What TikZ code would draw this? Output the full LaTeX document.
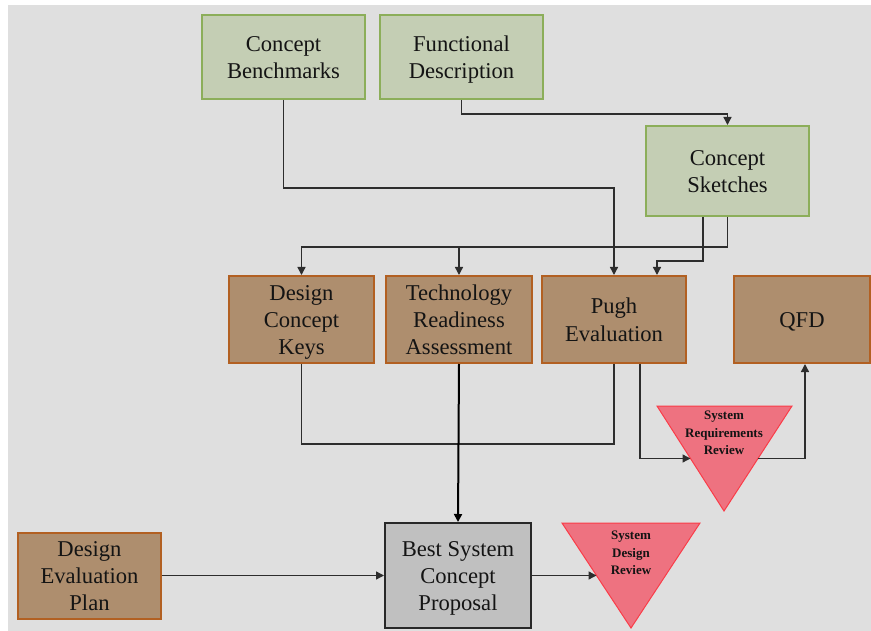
\documentclass[tikz,border=0pt]{standalone}
\usepackage{fontspec}
\setmainfont{Liberation Serif}
\usetikzlibrary{arrows.meta,calc}
\definecolor{bgc}{RGB}{223,223,223}
\definecolor{gfill}{RGB}{196,206,180}
\definecolor{gdraw}{RGB}{140,174,90}
\definecolor{bfill}{RGB}{174,142,110}
\definecolor{bdraw}{RGB}{178,96,34}
\definecolor{kfill}{RGB}{192,192,192}
\definecolor{kdraw}{RGB}{40,40,40}
\definecolor{tfill}{RGB}{238,114,128}
\definecolor{tdraw}{RGB}{250,60,72}
\definecolor{linec}{RGB}{45,45,45}
\definecolor{txtc}{RGB}{20,20,20}
\newcommand{\mytop}{\rule{0pt}{21pt}}
\newcommand{\mybot}{\rule[-5pt]{0pt}{5pt}}
\tikzset{
  box/.style={rectangle, line width=2pt, align=center, text=txtc, inner sep=0pt,
    font=\fontsize{22.6}{27.2}\selectfont},
  gbox/.style={box, fill=gfill, draw=gdraw},
  bbox/.style={box, fill=bfill, draw=bdraw},
  kbox/.style={box, fill=kfill, draw=kdraw},
  tri/.style={fill=tfill, draw=tdraw, line width=1pt},
  trilabel/.style={align=center, text=txtc, inner sep=0pt,
    font=\bfseries\fontsize{13}{17.5}\selectfont},
  conn/.style={draw=linec, line width=1.4pt},
  arr/.style={conn, -{Triangle[length=8pt,width=8pt]}},
}
\begin{document}
\begin{tikzpicture}[x=1pt,y=-1pt]
\useasboundingbox (0,0) rectangle (871,631);
\fill[bgc] (8,5) rectangle (871,631);

\node[gbox, minimum width=163pt, minimum height=84pt] (cb) at (283.5,57) {\mytop Concept\\Benchmarks\mybot};
\node[gbox, minimum width=163pt, minimum height=84pt] (fd) at (461.5,57) {\mytop Functional\\Description\mybot};
\node[gbox, minimum width=163pt, minimum height=90pt] (cs) at (727.5,171) {\mytop Concept\\Sketches\mybot};

\node[bbox, minimum width=145pt, minimum height=87pt] (dck) at (301.5,319.5) {\mytop Design\\Concept\\Keys\mybot};
\node[bbox, minimum width=146pt, minimum height=87pt] (tra) at (459,319.5) {\mytop Technology\\Readiness\\Assessment\mybot};
\node[bbox, minimum width=144pt, minimum height=87pt] (pugh) at (614,319.5) {\mytop Pugh\\Evaluation\mybot};
\node[bbox, minimum width=136pt, minimum height=87pt] (qfd) at (802,319.5) {\mytop QFD\mybot};

\node[bbox, minimum width=143pt, minimum height=86pt] (dep) at (89.5,575.5) {\mytop Design\\Evaluation\\Plan\mybot};
\node[kbox, minimum width=146pt, minimum height=105pt] (best) at (458,575.5) {\mytop Best System\\Concept\\Proposal\mybot};

% System Requirements Review triangle
\coordinate (srrL) at (657,406);
\coordinate (srrR) at (792,406);
\coordinate (srrB) at (724,511);
\draw[tri] (srrL) -- (srrR) -- (srrB) -- cycle;
\node[trilabel] (srr) at (724,433) {System\\Requirements\\Review};

% System Design Review triangle
\coordinate (sdrL) at (562,523);
\coordinate (sdrR) at (700,523);
\coordinate (sdrB) at (631,628);
\draw[tri] (sdrL) -- (sdrR) -- (sdrB) -- cycle;
\node[trilabel] (sdr) at (631,553) {System\\Design\\Review};

% connectors
\draw[arr] (cb.south) -- ++(0,88) -| (pugh.north);
\draw[arr] (fd.south) -- ++(0,14) -| (cs.north);
\coordinate (csj) at ($(cs.south)+(0,30)$);
\draw[arr] (cs.south) -- (csj) -| (dck.north);
\draw[arr] (csj) -| (tra.north);
\draw[arr] ($(cs.south)+(-24.5,0)$) -- ++(0,44) -| ($(pugh.north)+(43,0)$);

\draw[conn] (dck.south) -- ++(0,80) -| (pugh.south);
\draw[draw=black, line width=2pt, -{Triangle[length=8pt,width=8pt]}] (tra.south) -- (best.north);

\draw[arr] ($(pugh.south)+(26,0)$) |- ($(srrL)!0.5!(srrB)$);
\draw[arr] ($(srrR)!0.5!(srrB)$) -| ($(qfd.south)+(3,0)$);

\draw[arr] (dep.east) -- (best.west);
\draw[arr] (best.east) -- ($(sdrL)!0.5!(sdrB)$);
\end{tikzpicture}
\end{document}
